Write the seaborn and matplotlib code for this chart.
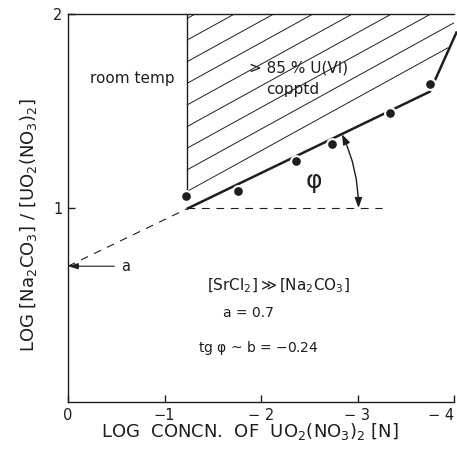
import matplotlib
matplotlib.use("Agg")
import matplotlib.pyplot as plt
import seaborn as sns
import numpy as np
import pandas as pd
from matplotlib.patches import Polygon

# ---- data ----
conc_log = [-1.22, -1.76, -2.36, -2.74, -3.34, -3.75]     # LOG CONCN. OF UO2(NO3)2
ratio_log = [1.06, 1.09, 1.24, 1.33, 1.49, 1.64]          # LOG [Na2CO3]/[UO2(NO3)2]
intercept_a = 0.7
slope_b = -0.24
fit_x = [-1.23, -3.75]
steep_x = [-3.75, -4.03]
steep_y = [1.60, 1.91]
region_x = [-1.23, -1.23, -4.02, -4.02, -3.93]
region_y = [1.08, 2.0, 2.0, 1.95, 1.81]
x_ticks = [0, -1, -2, -3, -4]
x_tick_labels = ["0", "\u22121", "\u2212 2", "\u2212 3", "\u2212 4"]
y_ticks = [1, 2]
y_tick_labels = ["1", "2"]

sns.set_theme(style="white")
plt.rcParams["font.family"] = ["DejaVu Sans"]
plt.rcParams["mathtext.default"] = "regular"

ink = "#1e1e1e"
fig = plt.figure(figsize=(4.57, 4.68), dpi=100)
ax = fig.add_axes([68 / 457, 66 / 468, 386 / 457, 388 / 468])
ax.set_xlim(0, -4)
ax.set_ylim(0, 2)

# hatched region
poly = Polygon(list(zip(region_x, region_y)), closed=True, fill=False, lw=0, edgecolor="none")
ax.add_patch(poly)
hatch_slope = 0.274
for c in np.arange(1.084, 2.0, 0.1115):
    xs = np.array([-1.23, -4.3])
    ys = c - hatch_slope * (xs + 1.23)
    ln, = ax.plot(xs, ys, color=ink, lw=0.7)
    ln.set_clip_path(poly)
ax.plot([-1.23, -1.23], [1.04, 2.0], color=ink, lw=1.0)

# fitted line and steep boundary
fit_y = [intercept_a + slope_b * x for x in fit_x]
ax.plot(fit_x + steep_x[1:], fit_y + steep_y[1:], color=ink, lw=1.8, clip_on=False,
        solid_capstyle="butt")
# dashed extrapolation to intercept a
ax.plot([0, fit_x[0]], [intercept_a, fit_y[0]], color=ink, lw=0.8, ls=(0, (7, 6)))
ax.plot([fit_x[0], -3.25], [1.0, 1.0], color=ink, lw=0.8, ls=(0, (7, 6)))

# data points
df = pd.DataFrame({"x": conc_log, "y": ratio_log})
sns.scatterplot(data=df, x="x", y="y", ax=ax, color=ink, s=60, edgecolor="white",
                linewidth=1.5, zorder=5, clip_on=False)

# angle phi
ax.annotate("", xy=(-3.01, 1.0), xytext=(-2.84, 1.38),
            arrowprops=dict(arrowstyle="<|-|>,head_length=0.5,head_width=0.18",
                            connectionstyle="arc3,rad=-0.11", color=ink, lw=1.0,
                            shrinkA=0, shrinkB=0))
ax.text(-2.54, 1.13, r"$\varphi$", fontsize=18, color=ink, ha="center", va="center")

# intercept arrow a
ax.annotate("", xy=(0, intercept_a), xytext=(-0.48, intercept_a),
            arrowprops=dict(arrowstyle="-|>,head_length=0.5,head_width=0.15",
                            color=ink, lw=0.8, shrinkA=0, shrinkB=0))
ax.text(-0.6, intercept_a, "a", fontsize=10.5, color=ink, ha="center", va="center")

# annotations
ax.text(-0.67, 1.67, "room temp", fontsize=11, color=ink, ha="center", va="center")
ax.text(-2.39, 1.72, "> 85 % U(VI)", fontsize=11, color=ink, ha="center", va="center")
ax.text(-2.33, 1.61, "copptd", fontsize=11, color=ink, ha="center", va="center")
ax.text(-2.18, 0.60, r"$\left[SrCl_2\right] \gg \left[Na_2CO_3\right]$", fontsize=11,
        color=ink, ha="center", va="center")
ax.text(-1.87, 0.46, "a = 0.7", fontsize=10, color=ink, ha="center", va="center")
ax.text(-1.97, 0.28, r"tg $\varphi$ ~ b = $-$0.24", fontsize=10, color=ink,
        ha="center", va="center")

# axes styling
for side in ["left", "bottom", "top"]:
    ax.spines[side].set_visible(True)
    ax.spines[side].set_color(ink)
    ax.spines[side].set_linewidth(1.0)
ax.spines["right"].set_visible(False)
ax.set_xticks(x_ticks)
ax.set_xticklabels(x_tick_labels)
ax.set_yticks(y_ticks)
ax.set_yticklabels(y_tick_labels)
ax.tick_params(axis="both", direction="in", length=5, width=1.0, color=ink,
               labelsize=10.5, labelcolor=ink, pad=4, bottom=True, left=True)
ax.get_xticklabels()[-1].set_horizontalalignment("right")

ax.set_xlabel(r"LOG  CONCN.  OF  UO$_2$(NO$_3$)$_2$ $\left[N\right]$", fontsize=13, color=ink)
ax.set_ylabel(r"LOG $\left[Na_2CO_3\right]$ / $\left[UO_2(NO_3)_2\right]$", fontsize=13, color=ink)
ax.xaxis.set_label_coords(0.47, -0.05)
ax.yaxis.set_label_coords(-0.075, 0.456)

fig.savefig("out.png", dpi=100)
